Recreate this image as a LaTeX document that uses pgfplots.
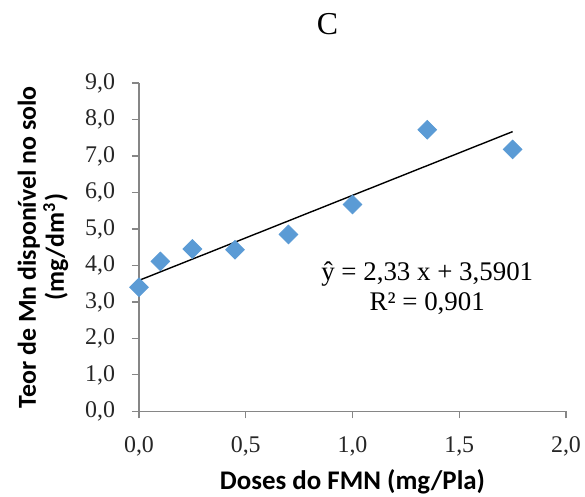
\documentclass[border=0pt]{standalone}
\usepackage{fontspec}
\setmainfont{Liberation Serif}
\newfontfamily\calibri{Carlito}
\usepackage{pgfplots}
\pgfplotsset{compat=1.18}
\definecolor{mkblue}{RGB}{91,155,213}
\definecolor{axgray}{RGB}{134,134,134}
\begin{document}
\begin{tikzpicture}
\begin{axis}[
  name=main,
  scale only axis,
  width=213.5bp, height=164.2bp,
  xmin=0, xmax=2, ymin=0, ymax=9,
  xtick={0,0.5,1,1.5,2},
  ytick={0,1,...,9},
  axis lines*=left,
  axis line style={axgray, line width=0.6pt, -},
  tick style={axgray, line width=0.6pt},
  tick align=outside,
  major tick length=3.5bp,
  clip=false,
  /pgf/number format/.cd, use comma, fixed, fixed zerofill, precision=1, assume math mode=true,
  /pgfplots/.cd,
  ticklabel style={font=\fontsize{12}{14}\selectfont, text=black!85},
  xticklabel style={yshift=-5.5bp},
  yticklabel style={xshift=-5bp},
]
\addplot[only marks, mark=square*, mark size=3.3bp, mark options={rotate=45, fill=mkblue, draw=mkblue}] coordinates {
  (0,3.40) (0.10,4.11) (0.25,4.45) (0.45,4.43) (0.70,4.85) (1.00,5.67) (1.35,7.72) (1.75,7.18)
};
\addplot[black, line width=0.7pt] coordinates {(0,3.5901) (1.75,7.6676)};
\node[align=center, font=\fontsize{13.5}{15}\selectfont] at (axis cs:1.35,3.38) {ŷ = 2,33 x + 3,5901\\R² = 0,901};
\path (rel axis cs:0,0.5) ++(-48bp,0) node[rotate=90, align=center, font=\calibri\bfseries\fontsize{13}{14}\selectfont] {Teor de Mn disponível no solo\\(mg/dm\textsuperscript{3})};
\path (rel axis cs:0.5,1) ++(-12.5bp,29.5bp) node[font=\fontsize{16}{18}\selectfont, inner sep=0pt] {C};
\path (rel axis cs:0.5,0) ++(0,-35bp) node[font=\calibri\bfseries\fontsize{13.5}{15}\selectfont] {Doses do FMN (mg/Pla)};
\end{axis}
\pgfresetboundingbox
\useasboundingbox ([xshift=-69.5bp, yshift=-42.65bp]main.south west) rectangle ([xshift=9.5bp, yshift=41.5bp]main.north east);
\end{tikzpicture}
\end{document}
